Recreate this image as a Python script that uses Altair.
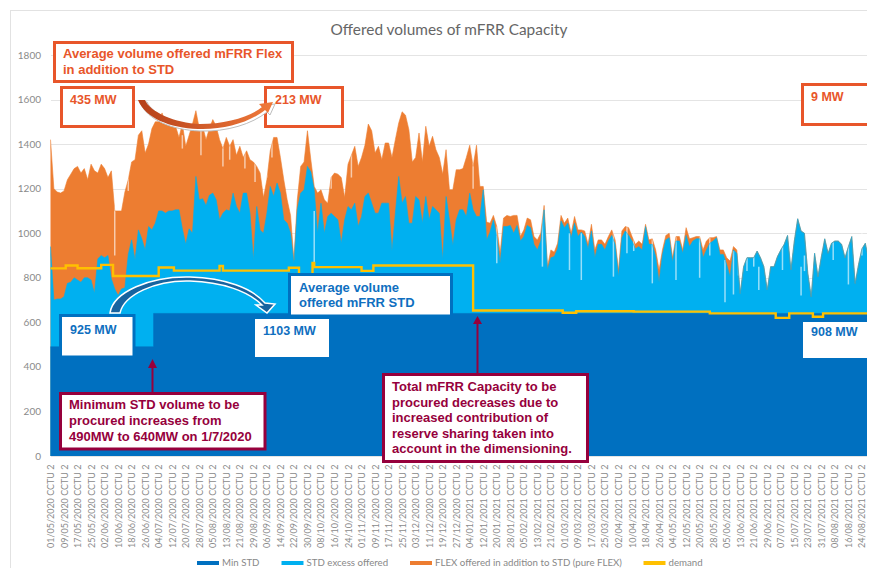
import altair as alt
import pandas as pd

# Top of the stack (Min STD + STD excess + FLEX), one value every 2 days
t1 = [1420,1200,1185,1180,1190,1240,1265,1290,1300,1270,1290,1240,1310,1280,1270,1310,1290,1250,1280,1100,
      1100,1100,1185,1240,1320,1330,1440,1460,1360,1400,1470,1500,1500,1540,1490,1510,1500,1480,1430,1490,
      1390,1440,1490,1550,1470,1480,1420,1470,1510,1480,1420,1380,1430,1390,1420,1350,1390,1340,1370,1330,
      1320,1300,1270,1160,1240]
t2 = [1370,1430,1430,1340,1240,1150,1080,880,1150,1300,1320,1460,1330,1210,1180,1195,1150,1135,1250,1270,
      1265,1250,1160,1310,1350,1390,1300,1340,1395,1490,1460,1360,1390,1330,1405,1405,1340,1420,1495,1545,
      1530,1465,1320,1340,1450,1320,1480,1390,1435,1375,1340,1265,1375,1195,1195,1285,1285,1290,1340,1395,
      1300,1395]
t3 = [1210,1210,1050,1045,1080,1030,910,1068,1080,1075,1080,1080,985,1015,1068,1060,985,970,1000,1125,
      850,925,915,955,1080,1045,1068,1000,1075,1015,1015,1010,950,1040,925,970,970,950,985,1015,
      970,835,1010,1030,1025,985,950,965,950,1040,970,975,925,835,925,990,1000,890,985,985,
      925,1025]
t4a = [975,980,985,985,925,965,980,980,985,925,925,890,875,940,925]
t4b = [730,850,890,890,890,920,890,850,745,850,850,895,925,950,990,835,965,1065,1010,1000,
       820,715,910,805,895,975,910,955,965,965,950,890,940,985,775,860,930,955,880,950,
       1035,700,930]

# Top of the STD offer (Min STD + STD excess)
s1 = [940,700,705,705,715,775,780,800,790,780,800,800,790,730,885,900,890,900,795,750,
      720,750,755,905,970,880,1015,975,925,1030,1015,1045,1100,1100,1090,1100,1100,1105,1105,1020,
      950,1020,1000,1255,1150,1155,1125,1170,1180,1150,1060,1090,1105,1100,1180,1120,1090,1180,1180,1090,
      880,1120,1015,1000,1090]
s2 = [1210,1165,1225,1180,1060,1045,1000,865,1105,1180,1195,1300,1275,1195,1000,1135,1000,1075,1090,1075,
      1060,955,1060,1120,1105,1135,1030,1075,1165,1180,1135,1090,1090,1135,1135,1135,920,1090,1255,1135,
      1165,1045,1045,1165,1150,1045,1165,1060,1120,1105,1090,880,1165,1060,945,1060,1105,1105,1075,1180,
      1105,1075]
s3 = [1075,1195,970,1005,1060,985,865,1030,1030,1035,1000,1035,965,985,1035,1025,950,925,965,1105,
      835,890,895,930,1055,1025,1045,980,1045,985,1005,985,930,1010,890,950,950,925,965,990,
      950,805,980,1010,990,965,930,940,925,1030,950,950,895,780,905,970,980,870,965,965,
      910,990]
s4a = [940,965,975,975,890,925,955,965,980,905,905,860,805,925,910]

totals = t1 + t2 + t3 + t4a + t4b
stds = s1 + s2 + s3 + s4a + t4b

# Short drops in the offers that show as pale slivers: day after 01/05/2020, low and high MW
dip_days = [38, 46, 78, 89, 102, 106, 115, 121, 128, 131, 156, 166, 178, 250,
            264, 291, 300, 307, 314, 333, 341, 345, 356, 361,
            370, 384, 390, 399, 404, 407, 409, 412, 416, 419, 425, 433, 444, 446, 455, 463, 472, 480]
dip_lo = [900, 1190, 1380, 1350, 1300, 1330, 1290, 1230, 1250, 1340, 860, 1200, 1250, 1200,
          865, 850, 1000, 835, 790, 805, 910, 920, 775, 900,
          790, 800, 900, 690, 725, 810, 830, 830, 850, 745, 810, 835, 720, 830, 900, 880, 770, 900]
dip_hi = [1120, 1260, 1440, 1470, 1440, 1400, 1370, 1320, 1330, 1430, 1100, 1280, 1360, 1460,
          1030, 1120, 1090, 1000, 1000, 1000, 1030, 1030, 1000, 990,
          1040, 990, 990, 880, 920, 890, 890, 890, 900, 850, 870, 1000, 850, 900, 960, 960, 960, 1000]

# Min STD and demand as (day after 01/05/2020, MW) step values
min_days = [0, 61, 488]
min_vals = [490, 640, 640]
demand_days = [0, 9, 16, 30, 37, 64, 73, 100, 102, 141, 147, 155, 156, 184, 191, 250, 303, 311, 345, 390, 429, 437, 451, 457, 488]
demand_vals = [842, 855, 843, 858, 808, 846, 832, 853, 832, 845, 790, 867, 848, 831, 855, 653, 643, 650, 648, 640, 620, 640, 625, 640, 645]

tick_labels = ["2020-05-01","2020-05-09","2020-05-17","2020-05-25","2020-06-02","2020-06-10","2020-06-18","2020-06-26",
    "2020-07-04","2020-07-12","2020-07-20","2020-07-28","2020-08-05","2020-08-13","2020-08-21","2020-08-29",
    "2020-09-06","2020-09-14","2020-09-22","2020-09-30","2020-10-08","2020-10-16","2020-10-24","2020-11-01",
    "2020-11-09","2020-11-17","2020-11-25","2020-12-03","2020-12-11","2020-12-19","2020-12-27","2021-01-04",
    "2021-01-12","2021-01-20","2021-01-28","2021-02-05","2021-02-13","2021-02-21","2021-03-01","2021-03-09",
    "2021-03-17","2021-03-25","2021-04-02","2021-04-10","2021-04-18","2021-04-26","2021-05-04","2021-05-12",
    "2021-05-20","2021-05-28","2021-06-05","2021-06-13","2021-06-21","2021-06-29","2021-07-07","2021-07-15",
    "2021-07-23","2021-07-31","2021-08-08","2021-08-16","2021-08-24"]

series_names = ["Min STD", "STD excess offered", "FLEX offered in addition to STD (pure FLEX)", "demand"]
series_colors = ["#0070C0", "#00B0F0", "#ED7D31", "#FFC000"]

L, T = 50.5, 55  # plot origin in page pixels
W, H = 867 - L, 401


def iso(d):
    return d.strftime("%Y-%m-%dT00:00:00")


start = pd.Timestamp("2020-05-01")
day = lambda n: iso(start + pd.Timedelta(days=int(n)))
dates = [day(2 * i) for i in range(len(totals))]
end_date = day(483)

df = pd.DataFrame({"date": dates, "total": totals, "std": stds})
df_min = pd.DataFrame({"date": [day(d) for d in min_days], "v": min_vals})
df_dem = pd.DataFrame({"date": [day(d) for d in demand_days], "v": demand_vals, "series": "demand"})
df_dip = pd.DataFrame({"date": [day(d) for d in dip_days], "v": dip_lo, "v2": dip_hi})

x_enc = alt.X("date:T", scale=alt.Scale(domain=[iso(start), end_date]), title=None,
              axis=alt.Axis(values=[v + "T00:00:00" for v in tick_labels],
                            labelExpr="timeFormat(toDate(datum.value),'%d/%m/%Y')+' CCTU 2'",
                            labelAngle=270, labelFont="Lato", labelFontSize=9, labelColor="#8a8a8a",
                            labelPadding=8, labelOverlap=False, labelBound=False, labelFlush=False,
                            ticks=False, domain=False, grid=False))
y_scale = alt.Scale(domain=[0, 1800], nice=False)
y_enc = alt.Y("v:Q", scale=y_scale, title=None,
              axis=alt.Axis(values=list(range(0, 1801, 200)), format="d", labelFont="Lato", labelFontSize=10,
                            labelColor="#8a8a8a", labelPadding=10, ticks=False, domain=False,
                            grid=True, gridColor="#E4E4E4", gridWidth=1))
color_enc = alt.Color("series:N", scale=alt.Scale(domain=series_names, range=series_colors),
                      legend=alt.Legend(title=None, orient="none", direction="horizontal",
                                        legendX=195 - L, legendY=550 - T, symbolType="stroke",
                                        symbolStrokeWidth=4, symbolSize=484, columnPadding=13.5,
                                        labelFont="Lato", labelFontSize=9.7, labelColor="#888888",
                                        labelOffset=1, labelLimit=400, gridAlign="none", padding=0))

base_top = alt.Chart(df).transform_calculate(v="datum.total")
base_std = alt.Chart(df).transform_calculate(v="datum.std")

layers = [
    base_top.mark_area(color=series_colors[2], interpolate="linear").encode(x=x_enc, y=y_enc),
    base_std.mark_area(color=series_colors[1], interpolate="linear").encode(x=x_enc, y=y_enc),
    alt.Chart(df_min).mark_area(color=series_colors[0], interpolate="step-after").encode(x=x_enc, y=y_enc),
    alt.Chart(df_dip).mark_rule(color="white", opacity=0.6, strokeWidth=1.5).encode(x=x_enc, y=y_enc, y2="v2:Q"),
]
for nm, src in [(series_names[2], base_top), (series_names[1], base_std)]:
    layers.append(src.transform_calculate(series=f"'{nm}'")
                  .mark_line(interpolate="linear", strokeWidth=0.6).encode(x=x_enc, y=y_enc, color=color_enc))
layers.append(alt.Chart(df_min).transform_calculate(series=f"'{series_names[0]}'")
              .mark_line(interpolate="step-after", strokeWidth=0.6).encode(x=x_enc, y=y_enc, color=color_enc))
layers.append(alt.Chart(df_dem).mark_line(interpolate="step-after", strokeWidth=2.4).encode(x=x_enc, y=y_enc, color=color_enc))

one = alt.Data(values=[{"a": 1}])


def px(v):
    return alt.value(v - L)


def py(v):
    return alt.value(v - T)


ORANGE, BLUE, WINE = "#E8562A", "#0F6FC0", "#96003C"
boxes = [
    (54.5, 292.5, 42.5, 81.5, ORANGE),
    (61.5, 133.5, 87.5, 126.5, ORANGE),
    (265.5, 342.5, 87.5, 126.5, ORANGE),
    (802.5, 878, 84.5, 124.5, ORANGE),
    (289.5, 451.5, 274.5, 316, "#0070C0"),
    (60.5, 134, 315.5, 357, "#0070C0"),
    (255, 329, 319, 357, None),
    (803, 874, 322, 358, None),
    (60.5, 265, 393.5, 449, WINE),
    (383.5, 587.5, 374.5, 461.5, WINE),
]
for x0, x1, y0, y1, c in boxes:
    kw = {"stroke": c, "strokeWidth": 3} if c else {"strokeWidth": 0}
    layers.append(alt.Chart(one).mark_rect(fill="white", **kw).encode(x=px(x0), x2=px(x1), y=py(y0), y2=py(y1)))

texts = [
    (63, 54, "Average volume offered mFRR Flex", ORANGE, 13), (63, 70, "in addition to STD", ORANGE, 13),
    (70, 100, "435 MW", ORANGE, 12.5), (275, 100, "213 MW", ORANGE, 12.5), (811, 97, "9 MW", ORANGE, 12.5),
    (299, 288, "Average volume", BLUE, 13), (299, 303, "offered mFRR STD", BLUE, 13),
    (70, 330, "925 MW", BLUE, 12.5), (263, 331, "1103 MW", BLUE, 12.5), (811, 332, "908 MW", BLUE, 12.5),
    (69, 405, "Minimum STD volume to be", WINE, 13), (69, 421, "procured increases from", WINE, 13),
    (69, 437, "490MW to 640MW on 1/7/2020", WINE, 13),
    (392, 387, "Total mFRR Capacity to be", WINE, 13), (392, 403, "procured decreases due to", WINE, 13),
    (392, 418, "increased contribution of", WINE, 13), (392, 434, "reserve sharing taken into", WINE, 13),
    (392, 449, "account in the dimensioning.", WINE, 13),
]
for x, y, s, c, fs in texts:
    layers.append(alt.Chart(one).mark_text(font="Liberation Sans", fontWeight="bold", fontSize=fs, align="left",
                                           baseline="middle", color=c)
                  .encode(x=px(x), y=py(y), text=alt.value(s)))

layers.append(alt.Chart(one).mark_text(font="Lato", fontSize=15.4, color="#666666", align="center", baseline="middle")
              .encode(x=px(449), y=py(30), text=alt.value("Offered volumes of mFRR Capacity")))

# arrows and curved connectors, drawn as custom symbols in page pixels
orange_curve = "M138 100 L145 100 C150 112 175 123 200 124 C225 124 250 117 262 107 L259 104 L273 102 L268 113 L265 110 C250 122 225 130 198 129 C170 128 145 118 138 100 Z"
blue_curve = "M110 313 C113 292 150 276 190 277 C225 278 252 288 265 303 L275 304 L267 313 L256 305 L262 305 C248 291 222 282 190 281 C155 280 124 295 120 313 Z"
heads = "M148 368 L157 368 L152.5 359 Z M473 324 L482 324 L477.5 316 Z"


def shape(path, fill, dx=0, dy=0, stroke=None, sw=0):
    kw = {"stroke": stroke, "strokeWidth": sw} if stroke else {"strokeWidth": 0}
    return (alt.Chart(one).mark_point(shape=path, size=4, filled=True, fill=fill, opacity=1, **kw)
            .encode(x=px(0 + dx), y=py(0 + dy)))


layers.append(shape(orange_curve, "white", 2, 2, "#BDBDBD", 1))
layers.append(shape(orange_curve, alt.LinearGradient(gradient="linear",
                                                     stops=[alt.GradientStop(color="#B5401A", offset=0),
                                                            alt.GradientStop(color="#F07A3A", offset=1)],
                                                     x1=0, x2=1, y1=0, y2=0)))
layers.append(shape(blue_curve, "#17639F", 0, 0, "white", 1.5))
layers.append(shape(heads, WINE))
for x, y0, y1 in [(152.5, 392, 366), (477.5, 373, 322)]:
    layers.append(alt.Chart(one).mark_rule(color=WINE, strokeWidth=2).encode(x=px(x), y=py(y0), y2=py(y1)))

# outer frame of the slide's chart
layers.append(alt.Chart(one).mark_rule(color="#E2E2E2", strokeWidth=1).encode(x=px(10), x2=px(876), y=py(10.5)))
layers.append(alt.Chart(one).mark_rule(color="#E2E2E2", strokeWidth=1).encode(x=px(10.5), y=py(10), y2=py(568)))

chart = (alt.layer(*layers)
         .resolve_scale(color="shared")
         .properties(width=W, height=H,
                     padding={"left": L - 8, "top": T - 8, "right": 0, "bottom": 112},
                     autosize=alt.AutoSizeParams(type="none"))
         .configure_view(stroke=None))

chart.save("out.html", embed_options={"renderer": "svg", "actions": False})
